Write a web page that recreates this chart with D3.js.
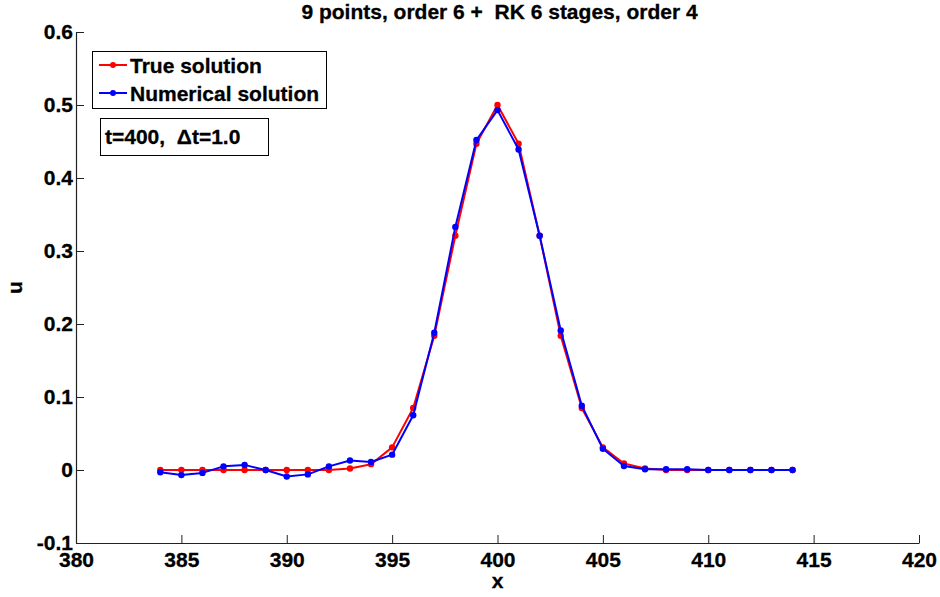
<!DOCTYPE html>
<html>
<head>
<meta charset="utf-8">
<script src="https://cdn.jsdelivr.net/npm/d3@7"></script>
<style>
  html, body { margin: 0; padding: 0; background: #fff; }
  svg { display: block; font-family: "Liberation Sans", Arial, Helvetica, sans-serif; font-weight: bold; }
  text { white-space: pre; stroke: #000; stroke-width: 0.3px; }
</style>
</head>
<body>
<svg id="chart" width="940" height="597"></svg>
<script>
// Grid positions x = 384 ... 414
const xs = d3.range(384, 415);

// Exact travelling pulse at t = 400
const trueU = [
  0, 0, 0, 0, 0, 0, 0, 0, 0, 0.002, 0.008, 0.031, 0.085, 0.184, 0.321, 0.447,
  0.5, 0.447, 0.321, 0.184, 0.085, 0.031, 0.009, 0.002, 0, 0, 0, 0, 0, 0, 0
];

// Computed solution (9-point order-6 stencil, 6-stage RK order 4)
const numU = [
  -0.003, -0.007, -0.004, 0.005, 0.007, 0.0, -0.009, -0.006, 0.005, 0.013, 0.011, 0.021,
  0.075, 0.188, 0.333, 0.452, 0.493, 0.439, 0.321, 0.191, 0.088, 0.029, 0.0055, 0.001,
  0.001, 0.001, 0, 0, 0, 0, 0
];

const xTicks = [380, 385, 390, 395, 400, 405, 410, 415, 420];
const yTicks = [-0.1, 0, 0.1, 0.2, 0.3, 0.4, 0.5, 0.6];
const seriesNames = ["True solution", "Numerical solution"];
const seriesColors = ["#ff0000", "#0000ff"];
const titleText = "9 points, order 6 +  RK 6 stages, order 4";
const noteText = "t=400,  \u0394t=1.0";

const svg = d3.select("#chart");
const L = 76, R = 919, T = 32, B = 543;
const FS = 21;

const x = d3.scaleLinear().domain([380, 420]).range([L, R]);
const y = d3.scaleLinear().domain([-0.1, 0.6]).range([B, T]);

svg.append("rect").attr("width", 940).attr("height", 597).attr("fill", "#fff");

// Axes with inward ticks
const xAxis = svg.append("g").attr("transform", `translate(0,${B})`)
  .call(d3.axisBottom(x).tickValues(xTicks).tickSizeInner(-8).tickSizeOuter(0).tickPadding(9).tickFormat(d3.format("d")));
const yAxis = svg.append("g").attr("transform", `translate(${L},0)`)
  .call(d3.axisLeft(y).tickValues(yTicks).tickSizeInner(-8).tickSizeOuter(0).tickPadding(3)
    .tickFormat(d => d === 0 ? "0" : d3.format(".1f")(d).replace("\u2212", "-")));

[xAxis, yAxis].forEach(g => {
  g.select(".domain").attr("stroke", "#222").attr("stroke-width", 1.2);
  g.selectAll(".tick line").attr("stroke", "#222").attr("stroke-width", 1);
  g.selectAll(".tick text").attr("fill", "#000").attr("font-size", FS).attr("font-weight", "bold")
    .attr("font-family", "'Liberation Sans', Arial, sans-serif");
});
xAxis.selectAll(".tick text").attr("dy", "0.72em");

// Axis labels and title
svg.append("text").attr("x", (L + R) / 2).attr("y", 588).attr("text-anchor", "middle")
  .attr("font-size", FS).text("x");
svg.append("text").attr("transform", `translate(21.5,${(T + B) / 2}) rotate(-90)`)
  .attr("text-anchor", "middle").attr("font-size", FS).text("u");
svg.append("text").attr("x", (L + R) / 2 + 2).attr("y", 19).attr("text-anchor", "middle")
  .attr("font-size", FS).text(titleText);

// Series
const series = [trueU, numU];
const line = d3.line().x((d, i) => x(xs[i])).y(d => y(d));
series.forEach((vals, k) => {
  const g = svg.append("g");
  g.append("path").datum(vals).attr("d", line).attr("fill", "none")
    .attr("stroke", seriesColors[k]).attr("stroke-width", 2).attr("stroke-linejoin", "round");
  g.selectAll("circle").data(vals).join("circle")
    .attr("cx", (d, i) => x(xs[i])).attr("cy", d => y(d)).attr("r", 3.2)
    .attr("fill", seriesColors[k]);
});

// Legend
const leg = svg.append("g");
leg.append("rect").attr("x", 92.5).attr("y", 51.5).attr("width", 234).attr("height", 57)
  .attr("fill", "#fff").attr("stroke", "#000").attr("stroke-width", 1);
seriesNames.forEach((name, k) => {
  const cy = 65 + k * 28;
  leg.append("line").attr("x1", 99).attr("x2", 127).attr("y1", cy).attr("y2", cy)
    .attr("stroke", seriesColors[k]).attr("stroke-width", 2);
  leg.append("circle").attr("cx", 113).attr("cy", cy).attr("r", 3).attr("fill", seriesColors[k]);
  leg.append("text").attr("x", 130).attr("y", cy + 8).attr("font-size", FS).text(name);
});

// Annotation box
const note = svg.append("g");
note.append("rect").attr("x", 100.5).attr("y", 118.5).attr("width", 168).attr("height", 37)
  .attr("fill", "#fff").attr("stroke", "#000").attr("stroke-width", 1);
note.append("text").attr("x", 105).attr("y", 143.5).attr("font-size", FS).text(noteText);
</script>
</body>
</html>
